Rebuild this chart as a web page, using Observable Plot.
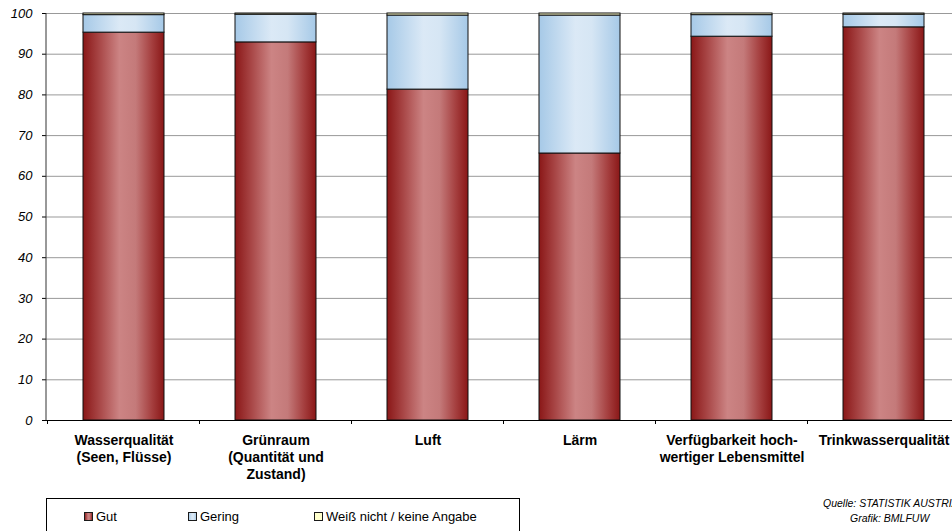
<!DOCTYPE html>
<html>
<head>
<meta charset="utf-8">
<script src="https://cdn.jsdelivr.net/npm/d3@7"></script>
<script src="https://cdn.jsdelivr.net/npm/@observablehq/plot@0.6"></script>
<style>
  html, body { margin: 0; padding: 0; overflow: hidden; background: #fff; }
  #wrap { position: relative; width: 952px; height: 531px; overflow: hidden; font-family: Arial, "Liberation Sans", sans-serif; }
  #chart { position: absolute; left: 0; top: 0; width: 970px; }
  #chart svg { max-width: none !important; }
  #legend { position: absolute; left: 46px; top: 498px; width: 474px; height: 60px; border: 1px solid #000; box-sizing: border-box; font-size: 13px; color: #000; }
  .item { position: absolute; top: 10px; display: flex; align-items: center; white-space: nowrap; }
  .item svg { margin-right: 3px; }
  .src { position: absolute; font-size: 10.5px; font-style: italic; white-space: nowrap; color: #000; }
</style>
</head>
<body>
<div id="wrap">
  <div id="chart"></div>
  <div id="legend"></div>
  <div class="src" style="left:823px; top:497px;">Quelle: STATISTIK AUSTRIA</div>
  <div class="src" style="left:850px; top:512px;">Grafik: BMLFUW</div>
</div>
<script>
const categories = ["Wasserqualität", "Grünraum", "Luft", "Lärm", "Verfügbarkeit", "Trinkwasserqualität"];
const categoryLabels = [
  "Wasserqualität\n(Seen, Flüsse)",
  "Grünraum\n(Quantität und\nZustand)",
  "Luft",
  "Lärm",
  "Verfügbarkeit hoch-\nwertiger Lebensmittel",
  "Trinkwasserqualität"
];
const seriesNames = ["Gut", "Gering", "Weiß nicht / keine Angabe"];
const gut = [95.3, 92.9, 81.3, 65.6, 94.3, 96.6];
const gering = [4.3, 6.8, 18.2, 33.9, 5.3, 3.1];
const weissNicht = [0.4, 0.3, 0.5, 0.5, 0.4, 0.3];
const yTicks = [0, 10, 20, 30, 40, 50, 60, 70, 80, 90, 100];

const seriesValues = [gut, gering, weissNicht];
const data = categories.flatMap((c, i) =>
  seriesNames.map((s, k) => ({cat: c, series: s, value: seriesValues[k][i]}))
);

const plot = Plot.plot({
  width: 970,
  height: 490,
  marginLeft: 46,
  marginRight: 9,
  marginTop: 13,
  marginBottom: 70,
  style: {fontFamily: "Arial, 'Liberation Sans', sans-serif", background: "transparent", color: "#000", maxWidth: "none"},
  x: {domain: categories, paddingInner: 0.47, paddingOuter: 0.235, label: null},
  y: {domain: [0, 100], label: null},
  color: {type: "ordinal", domain: seriesNames, range: ["url(#gGut)", "url(#gGering)", "#ffffcc"]},
  marks: [
    Plot.gridY(yTicks.filter(t => t > 0), {stroke: "#999", strokeOpacity: 1, strokeWidth: 1}),
    Plot.barY(data, Plot.stackY({x: "cat", y: "value", fill: "series", stroke: "#111", strokeWidth: 1})),
    Plot.ruleY([0], {stroke: "#000", strokeWidth: 1}),
    Plot.axisY({ticks: yTicks, tickSize: 4, tickFormat: () => ""}),
    Plot.text(yTicks, {y: d => d, text: d => String(d), frameAnchor: "left", textAnchor: "end", dx: -14,
      fontStyle: "italic", fontSize: 13, fill: "#000"}),
    Plot.axisX({tickSize: 0, tickPadding: 13, fontWeight: "bold", fontSize: 14, lineHeight: 1.2,
      tickFormat: d => categoryLabels[categories.indexOf(d)]})
  ]
});
plot.style.maxWidth = "none";

const svg = d3.select(plot);
svg.insert("defs", ":first-child").html(`
  <linearGradient id="gGut" x1="0" x2="1" y1="0" y2="0">
    <stop offset="0" stop-color="#8a1717"/>
    <stop offset="0.2" stop-color="#a84646"/>
    <stop offset="0.45" stop-color="#cc8484"/>
    <stop offset="0.65" stop-color="#c47a7a"/>
    <stop offset="0.85" stop-color="#a53f3f"/>
    <stop offset="1" stop-color="#8a1717"/>
  </linearGradient>
  <linearGradient id="gGering" x1="0" x2="1" y1="0" y2="0">
    <stop offset="0" stop-color="#a6c9e7"/>
    <stop offset="0.45" stop-color="#dbe9f6"/>
    <stop offset="0.65" stop-color="#d6e6f4"/>
    <stop offset="1" stop-color="#a6c9e7"/>
  </linearGradient>
`);

// y axis line and x boundary ticks from Plot's scales
const xs = plot.scale("x");
const ys = plot.scale("y");
const y0 = ys.apply(0), y100 = ys.apply(100);
svg.append("line")
  .attr("x1", xs.range[0]).attr("x2", xs.range[0])
  .attr("y1", y100).attr("y2", y0)
  .attr("stroke", "#333").attr("stroke-width", 1);
const gap = (xs.step - xs.bandwidth) / 2;
const bounds = categories.map(c => xs.apply(c) - gap);
bounds.push(xs.apply(categories[categories.length - 1]) + xs.bandwidth + gap);
svg.append("g").selectAll("line").data(bounds).join("line")
  .attr("x1", d => d).attr("x2", d => d)
  .attr("y1", y0).attr("y2", y0 + 4)
  .attr("stroke", "#000").attr("stroke-width", 1);

document.getElementById("chart").appendChild(plot);

// legend
const cs = plot.scale("color");
const legendPos = [37, 141, 267];
const legend = document.getElementById("legend");
seriesNames.forEach((s, i) => {
  const item = document.createElement("div");
  item.className = "item";
  item.style.left = legendPos[i] + "px";
  item.innerHTML = `<svg width="9" height="9"><rect x="0.5" y="0.5" width="8" height="8" fill="${cs.apply(s)}" stroke="#1a1a1a"/></svg><span>${s}</span>`;
  legend.appendChild(item);
});
</script>
</body>
</html>
